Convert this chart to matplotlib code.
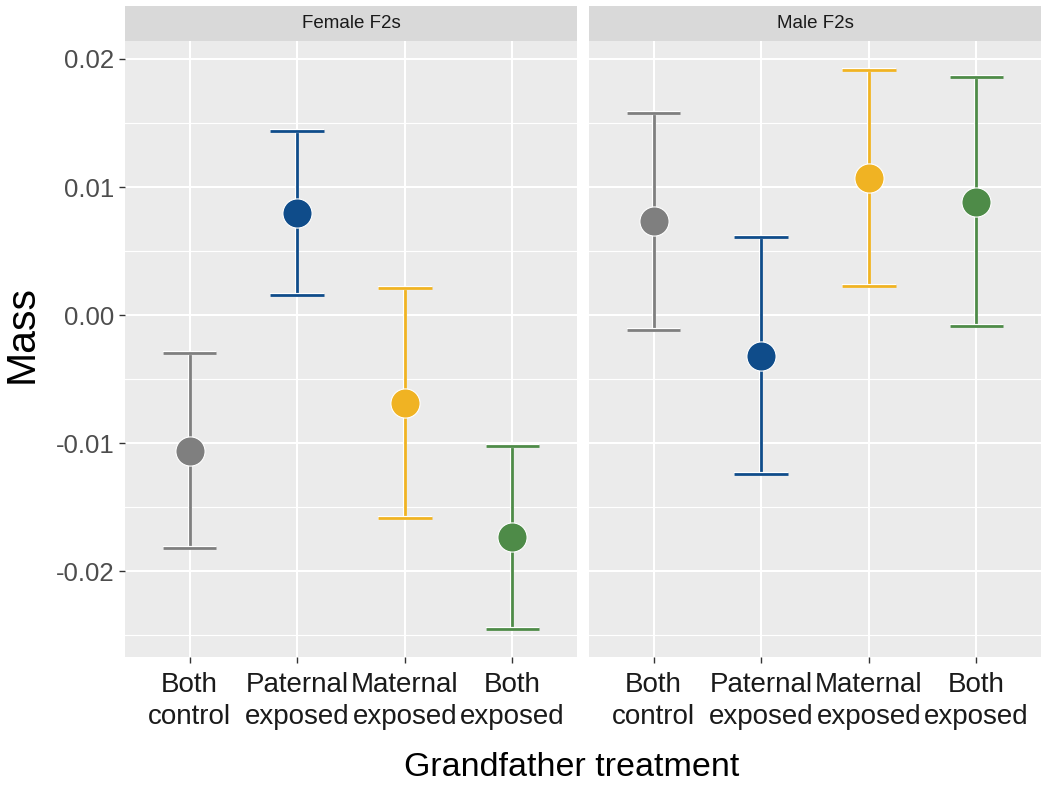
import matplotlib
matplotlib.use("Agg")
import matplotlib.pyplot as plt
import matplotlib.patheffects as pe
import numpy as np

plt.rcParams['font.family'] = ['Liberation Sans', 'DejaVu Sans']

categories = ["Both\ncontrol", "Paternal\nexposed", "Maternal\nexposed", "Both\nexposed"]
colors = ["#7f7f7f", "#0f4c8a", "#f0b323", "#4e8b48"]
panels = ["Female F2s", "Male F2s"]

female_mean = [-0.0106, 0.00798, -0.00684, -0.01729]
female_lower = [-0.01817, 0.00158, -0.01583, -0.0245]
female_upper = [-0.00296, 0.01438, 0.00216, -0.0102]

male_mean = [0.00733, -0.00317, 0.01069, 0.00881]
male_lower = [-0.00117, -0.0124, 0.00226, -0.00086]
male_upper = [0.01581, 0.00608, 0.01917, 0.01857]

yticks = [-0.02, -0.01, 0.0, 0.01, 0.02]
ytick_labels = ["-0.02", "-0.01", "0.00", "0.01", "0.02"]
yminor = [-0.025, -0.015, -0.005, 0.005, 0.015]

W, H = 1050, 789
fig = plt.figure(figsize=(W / 100, H / 100), dpi=100)

panel_x = [125, 589]
panel_w = 452
top, bottom = 41, 657
strip_top = 6

data = [(female_mean, female_lower, female_upper), (male_mean, male_lower, male_upper)]
halo = [pe.Stroke(linewidth=3.0, foreground="white"), pe.Normal()]

for i, (px, name, (m, lo, hi)) in enumerate(zip(panel_x, panels, data)):
    ax = fig.add_axes([px / W, 1 - bottom / H, panel_w / W, (bottom - top) / H])
    ax.set_facecolor("#ebebeb")
    for s in ax.spines.values():
        s.set_visible(False)
    x = np.arange(1, len(categories) + 1)
    ax.set_xlim(0.4, 4.6)
    ax.set_ylim(-0.02668, 0.0214)
    ax.set_yticks(yticks)
    ax.set_yticks(yminor, minor=True)
    ax.set_xticks(x)
    ax.set_xticklabels(categories, fontsize=20, color="#1a1a1a", linespacing=1.3)
    ax.grid(True, which="major", color="white", linewidth=1.5)
    ax.grid(True, which="minor", axis="y", color="white", linewidth=0.8)
    ax.set_axisbelow(True)
    ax.tick_params(axis="both", which="major", length=4.5, width=1.0, color="#333333", pad=3)
    ax.tick_params(axis="x", which="major", pad=6)
    ax.tick_params(axis="y", which="minor", length=0)
    if i == 0:
        ax.set_yticklabels(ytick_labels, fontsize=18.5, color="#4d4d4d")
    else:
        ax.tick_params(axis="y", which="major", length=0, labelleft=False)
    for xi, mi, l, h, c in zip(x, m, lo, hi, colors):
        ax.vlines(xi, l, h, color=c, linewidth=2.0, zorder=3, path_effects=halo)
        ax.hlines([l, h], xi - 0.25, xi + 0.25, color=c, linewidth=2.0, zorder=3, path_effects=halo)
        ax.plot([xi], [mi], marker="o", markersize=21, color=c, markeredgecolor="white",
                markeredgewidth=0.8, zorder=4, linestyle="none")
    sax = fig.add_axes([px / W, 1 - top / H, panel_w / W, (top - strip_top) / H])
    sax.set_facecolor("#d9d9d9")
    for s in sax.spines.values():
        s.set_visible(False)
    sax.set_xticks([])
    sax.set_yticks([])
    sax.text(0.5, 0.5, name, ha="center", va="center", fontsize=13.5, color="#1a1a1a",
             transform=sax.transAxes)

fig.text(22 / W, 1 - 334 / H, "Mass", rotation=90, ha="center", va="center", fontsize=29.5, color="black")
fig.text(572 / W, 1 - 768 / H, "Grandfather treatment", ha="center", va="center",
         fontsize=24.5, color="black")

fig.savefig("out.png", dpi=100)
